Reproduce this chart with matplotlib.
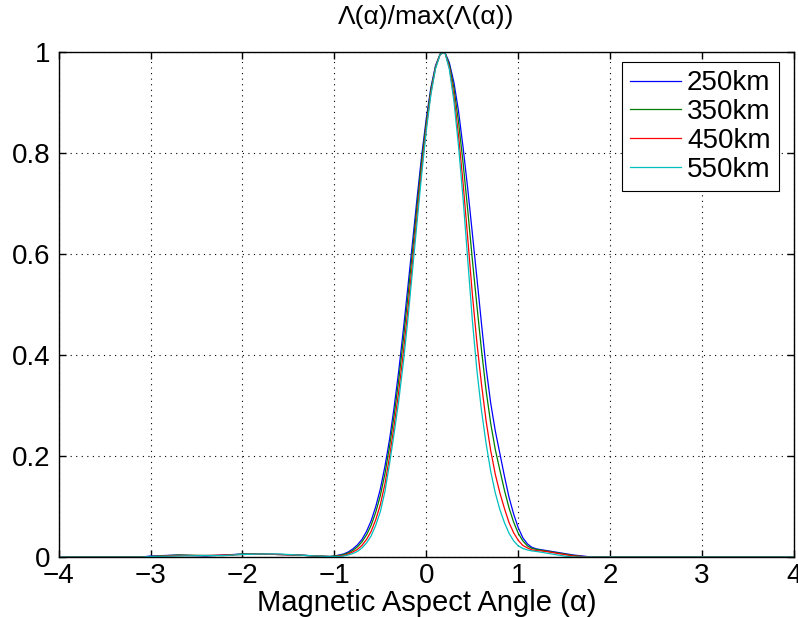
import numpy as np
import matplotlib
matplotlib.use("Agg")
import matplotlib.pyplot as plt

plt.rcParams['font.family'] = ['Liberation Sans', 'DejaVu Sans']

# sample positions (aspect angle, deg)
x_left = [-4.0, -3.1, -3.0, -2.7, -2.4, -2.2, -2.0, -1.8, -1.6, -1.4, -1.2, -1.05]
x_core = list(np.round(np.arange(-1.0, 1.201, 0.05), 2))
x_right = [1.3, 1.4, 1.5, 1.6, 1.7, 1.8, 2.0, 4.0]
alpha = np.array(x_left + x_core + x_right)

# normalised values
h250 = ([0, 0, 0.002, 0.004, 0.002, 0.004, 0.006, 0.006, 0.005, 0.004, 0.002, 0.001] +
        [0.002, 0.004, 0.006, 0.010, 0.016, 0.024, 0.035, 0.051, 0.072, 0.100, 0.135,
         0.180, 0.233, 0.297, 0.369, 0.450, 0.536, 0.624, 0.712, 0.796, 0.869, 0.930,
         0.973, 0.996, 1.000, 0.979, 0.940, 0.883, 0.811, 0.730, 0.642, 0.553, 0.462,
         0.375, 0.305, 0.250, 0.205, 0.160, 0.118, 0.085, 0.058, 0.038, 0.026, 0.019,
         0.016] +
        [0.013, 0.010, 0.007, 0.004, 0.002, 0.0, 0.0, 0.0])
h350 = ([0, 0, 0.001, 0.004, 0.003, 0.003, 0.006, 0.006, 0.005, 0.004, 0.002, 0.001] +
        [0.002, 0.003, 0.005, 0.008, 0.013, 0.020, 0.030, 0.044, 0.063, 0.089, 0.122,
         0.165, 0.219, 0.281, 0.351, 0.431, 0.517, 0.607, 0.698, 0.785, 0.862, 0.926,
         0.971, 0.996, 1.000, 0.975, 0.929, 0.862, 0.780, 0.688, 0.590, 0.498, 0.410,
         0.330, 0.265, 0.213, 0.172, 0.132, 0.097, 0.069, 0.047, 0.032, 0.022, 0.017,
         0.015] +
        [0.012, 0.009, 0.006, 0.003, 0.001, 0.0, 0.0, 0.0])
h450 = ([0, 0, 0.001, 0.003, 0.003, 0.004, 0.005, 0.006, 0.005, 0.004, 0.002, 0.001] +
        [0.001, 0.002, 0.003, 0.006, 0.010, 0.015, 0.023, 0.035, 0.051, 0.074, 0.104,
         0.145, 0.199, 0.261, 0.328, 0.405, 0.491, 0.585, 0.679, 0.770, 0.852, 0.920,
         0.969, 0.995, 1.000, 0.970, 0.914, 0.835, 0.740, 0.632, 0.522, 0.425, 0.342,
         0.270, 0.211, 0.164, 0.127, 0.096, 0.068, 0.048, 0.033, 0.023, 0.018, 0.014,
         0.013] +
        [0.011, 0.008, 0.005, 0.002, 0.001, 0.0, 0.0, 0.0])
h550 = ([0, 0, 0.001, 0.002, 0.003, 0.003, 0.005, 0.006, 0.006, 0.004, 0.002, 0.001] +
        [0.001, 0.001, 0.002, 0.004, 0.007, 0.011, 0.018, 0.028, 0.042, 0.063, 0.090,
         0.130, 0.185, 0.245, 0.310, 0.385, 0.472, 0.568, 0.665, 0.759, 0.845, 0.916,
         0.967, 0.995, 1.000, 0.966, 0.903, 0.814, 0.709, 0.590, 0.470, 0.370, 0.290,
         0.225, 0.170, 0.127, 0.094, 0.068, 0.047, 0.032, 0.022, 0.017, 0.014, 0.012,
         0.011] +
        [0.008, 0.005, 0.002, 0.0, 0.0, 0.0, 0.0, 0.0])

series = [h250, h350, h450, h550]
labels = ['250km', '350km', '450km', '550km']
colors = ['#0000ff', '#008000', '#ff0000', '#00bfbf']

fig = plt.figure(figsize=(7.98, 6.17), dpi=100)
ax = fig.add_axes([0.0735, 0.0972, 0.9215, 0.8185])

for h, lab, c in zip(series, labels, colors):
    ax.plot(alpha, h, color=c, lw=0.9, label=lab)

ax.set_xlim(-4, 4)
ax.set_ylim(0, 1)
ax.set_xticks(range(-4, 5))
ax.set_yticks([0, 0.2, 0.4, 0.6, 0.8, 1])
ax.set_yticklabels(['0', '0.2', '0.4', '0.6', '0.8', '1'])
ax.tick_params(direction='in', top=True, right=True, length=5, width=1,
               labelsize=20)
ax.tick_params(axis='x', pad=4)
ax.tick_params(axis='y', pad=6)
ax.grid(True, color='black', linestyle=(0, (1, 4)), linewidth=0.8)
for s in ax.spines.values():
    s.set_linewidth(1)

ax.set_xlabel('Magnetic Aspect Angle (α)', fontsize=21, labelpad=0)
ax.set_title('Λ(α)/max(Λ(α))', fontsize=19, pad=20)

leg = ax.legend(loc='upper right', bbox_to_anchor=(779 / 798, 1 - 62 / 617),
                bbox_transform=fig.transFigure, borderaxespad=0,
                fontsize=20, frameon=True, fancybox=False,
                edgecolor='black', framealpha=1, handlelength=1.85,
                labelspacing=0.1, handletextpad=0.2, borderpad=0.3)
leg.get_frame().set_linewidth(0.8)

fig.savefig('out.png', dpi=100)
